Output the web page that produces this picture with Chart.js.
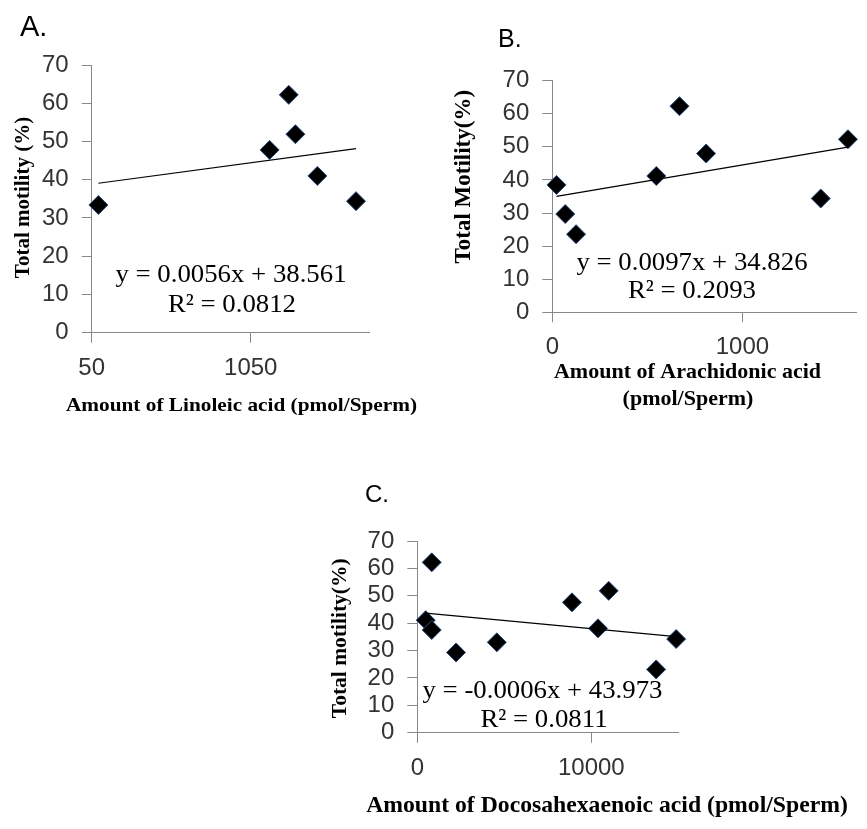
<!DOCTYPE html>
<html lang="en">
<head>
  <meta charset="UTF-8">
  <title>Total motility vs fatty acids</title>
  <script src="https://cdn.jsdelivr.net/npm/chart.js"></script>
  <style>
    html, body {
      margin: 0;
      padding: 0;
      background-color: #fff;
    }
    #wrap {
      position: relative;
      width: 867px;
      height: 829px;
      overflow: hidden;
    }
    #wrap canvas {
      position: absolute;
      left: 0;
      top: 0;
    }
  </style>
</head>
<body>
  <div id="wrap">
    <canvas id="chartA" width="867" height="829"></canvas>
    <canvas id="chartB" width="867" height="829"></canvas>
    <canvas id="chartC" width="867" height="829"></canvas>
  </div>

  <script>
    // A. Linoleic acid
    const linoleicX = [92, 1169, 1289, 1331, 1469, 1712];
    const linoleicY = [33.4, 47.8, 62.2, 51.9, 41.0, 34.4];
    const linoleicTicks = [50, 1050];
    const linoleicFit = { slope: 0.0056, intercept: 38.561, r2: '0.0812' };

    // B. Arachidonic acid
    const arachidonicX = [22, 68, 125, 547, 669, 809, 1412, 1555];
    const arachidonicY = [38.5, 29.7, 23.6, 41.2, 62.3, 48.0, 34.4, 52.3];
    const arachidonicTicks = [0, 1000];
    const arachidonicFit = { slope: 0.0097, intercept: 34.826, r2: '0.2093' };

    // C. Docosahexaenoic acid
    const dhaX = [484, 829, 829, 2228, 4571, 8889, 10386, 11000, 13728, 14876];
    const dhaY = [41.1, 62.2, 37.5, 29.3, 33.0, 47.6, 38.1, 51.8, 23.1, 34.2];
    const dhaTicks = [0, 10000];
    const dhaFit = { slope: -0.0006, intercept: 43.973, r2: '0.0811' };

    const motilityTicks = { min: 0, max: 70, step: 10 };

    const axisGray = '#888888';
    const tickFont = { family: "'Liberation Sans', Arial, sans-serif", size: 24 };
    const serif = "'Liberation Serif', 'Times New Roman', serif";

    // draws free text (panel letters, axis titles, trendline equations)
    function textLayer(items) {
      return {
        id: 'textLayer',
        afterDraw(chart) {
          const ctx = chart.ctx;
          items.forEach(t => {
            ctx.save();
            ctx.font = t.font;
            ctx.fillStyle = '#000';
            ctx.textAlign = t.align || 'center';
            ctx.textBaseline = 'alphabetic';
            ctx.translate(t.x, t.y);
            if (t.rotate) ctx.rotate(t.rotate);
            ctx.scale(t.sx || 1, 1);
            ctx.fillText(t.text, 0, 0);
            ctx.restore();
          });
        }
      };
    }

    function equationTexts(fit, cx1, y1, cx2, y2, sx) {
      return [
        { text: `y = ${fit.slope}x + ${fit.intercept}`, x: cx1, y: y1, font: `26px ${serif}`, sx },
        { text: `R² = ${fit.r2}`, x: cx2, y: y2, font: `26px ${serif}`, sx }
      ];
    }

    function makeChart(id, o) {
      const points = o.xs.map((x, i) => ({ x: x, y: o.ys[i] }));
      const x0 = Math.min(...o.xs);
      const x1 = Math.max(...o.xs);
      const trend = [x0, x1].map(x => ({ x: x, y: o.fit.slope * x + o.fit.intercept }));

      return new Chart(document.getElementById(id), {
        type: 'scatter',
        data: {
          datasets: [
            {
              data: points,
              pointStyle: 'rectRot',
              pointRadius: 9.5,
              backgroundColor: '#000',
              borderColor: '#2b4c7e',
              borderWidth: 1,
              clip: false,
              order: 1
            },
            {
              data: trend,
              showLine: true,
              borderColor: '#000',
              borderWidth: 1.2,
              pointRadius: 0,
              clip: false,
              order: 0
            }
          ]
        },
        options: {
          responsive: false,
          animation: false,
          events: [],
          layout: { padding: o.padding },
          plugins: {
            legend: { display: false },
            tooltip: { enabled: false }
          },
          scales: {
            x: {
              type: 'linear',
              min: o.xMin,
              max: o.xMax,
              afterBuildTicks: s => { s.ticks = o.xTicks.map(v => ({ value: v })); },
              afterFit: s => { s.height = 60; },
              grid: { drawOnChartArea: false, color: axisGray, tickLength: 10 },
              border: { color: axisGray, width: 1 },
              ticks: { color: '#333', font: tickFont, padding: 11, maxRotation: 0, autoSkip: false, callback: v => String(v) },
              title: { display: false }
            },
            y: {
              min: motilityTicks.min,
              max: motilityTicks.max,
              afterFit: s => { s.width = o.yWidth; },
              grid: { drawOnChartArea: false, color: axisGray, tickLength: 10 },
              border: { color: axisGray, width: 1 },
              ticks: { stepSize: motilityTicks.step, color: '#333', font: tickFont, padding: 13, autoSkip: false },
              title: { display: false }
            }
          }
        },
        plugins: [textLayer(o.texts)]
      });
    }

    makeChart('chartA', {
      xs: linoleicX, ys: linoleicY, fit: linoleicFit,
      xMin: 50, xMax: 1800, xTicks: linoleicTicks,
      yWidth: 91.7,
      padding: { left: 0, top: 65, right: 497, bottom: 436.3 },
      texts: [
        { text: 'A.', x: 20, y: 36, font: "29px 'Liberation Sans', Arial, sans-serif", align: 'left' },
        { text: 'Total motility (%)', x: 29, y: 197.5, rotate: -Math.PI / 2, font: `bold 21px ${serif}` },
        { text: 'Amount of Linoleic acid (pmol/Sperm)', x: 241.5, y: 411, font: `bold 19px ${serif}`, sx: 1.12 }
      ].concat(equationTexts(linoleicFit, 231, 282, 232, 312, 1.03))
    });

    makeChart('chartB', {
      xs: arachidonicX, ys: arachidonicY, fit: arachidonicFit,
      xMin: 0, xMax: 1600, xTicks: arachidonicTicks,
      yWidth: 112.3,
      padding: { left: 440, top: 80.7, right: 0, bottom: 456.7 },
      texts: [
        { text: 'B.', x: 498, y: 47, font: "25px 'Liberation Sans', Arial, sans-serif", align: 'left' },
        { text: 'Total Motility(%)', x: 470, y: 176.7, rotate: -Math.PI / 2, font: `bold 23px ${serif}` },
        { text: 'Amount of Arachidonic acid', x: 687.5, y: 378, font: `bold 22px ${serif}` },
        { text: '(pmol/Sperm)', x: 688, y: 405, font: `bold 22px ${serif}` }
      ].concat(equationTexts(arachidonicFit, 692, 270, 692, 298.3, 1.03))
    });

    makeChart('chartC', {
      xs: dhaX, ys: dhaY, fit: dhaFit,
      xMin: 0, xMax: 15000, xTicks: dhaTicks,
      yWidth: 117.3,
      padding: { left: 300, top: 541, right: 188.7, bottom: 36.3 },
      texts: [
        { text: 'C.', x: 365, y: 502, font: "24px 'Liberation Sans', Arial, sans-serif", align: 'left' },
        { text: 'Total motility(%)', x: 346, y: 638.3, rotate: -Math.PI / 2, font: `bold 21.5px ${serif}` },
        { text: 'Amount of Docosahexaenoic acid (pmol/Sperm)', x: 607, y: 812, font: `bold 23px ${serif}`, sx: 1.03 }
      ].concat(equationTexts(dhaFit, 542.5, 698, 544, 726.7, 1.03))
    });
  </script>
</body>
</html>
